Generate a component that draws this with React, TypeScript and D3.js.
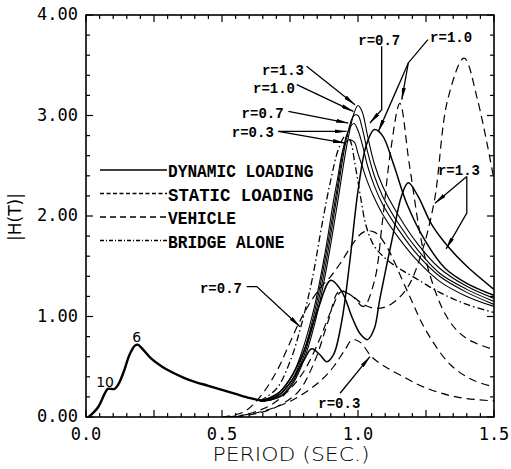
import React from "react";
import * as d3 from "d3";

// ---------- data (period T in sec, |H(T)|) ----------
const lowT = [0.01, 0.045, 0.07, 0.08, 0.105, 0.12, 0.14, 0.16, 0.18, 0.19, 0.21, 0.24, 0.28, 0.32, 0.36, 0.40, 0.45, 0.50, 0.55, 0.60, 0.63, 0.66];
const lowH = [0.00, 0.10, 0.24, 0.28, 0.28, 0.33, 0.46, 0.62, 0.71, 0.72, 0.67, 0.58, 0.50, 0.44, 0.39, 0.35, 0.31, 0.27, 0.23, 0.19, 0.17, 0.16];

const bundleT = [0.64, 0.68, 0.72, 0.76, 0.80, 0.84, 0.88, 0.92, 0.96, 0.985, 1.0, 1.015, 1.035, 1.06, 1.09, 1.15, 1.22, 1.30, 1.40, 1.50];
const dynR13 = [0.16, 0.17, 0.21, 0.33, 0.56, 0.92, 1.42, 2.05, 2.72, 3.02, 3.10, 3.04, 2.80, 2.52, 2.30, 2.00, 1.72, 1.48, 1.30, 1.18];
const dynR10 = [0.16, 0.17, 0.22, 0.35, 0.60, 0.98, 1.50, 2.15, 2.80, 3.00, 3.00, 2.88, 2.64, 2.40, 2.20, 1.92, 1.66, 1.43, 1.27, 1.15];
const dynR07 = [0.16, 0.18, 0.24, 0.38, 0.64, 1.04, 1.58, 2.22, 2.82, 2.92, 2.85, 2.72, 2.50, 2.30, 2.12, 1.86, 1.61, 1.40, 1.24, 1.12];
const dynR03 = [0.16, 0.20, 0.27, 0.42, 0.70, 1.10, 1.65, 2.30, 2.75, 2.74, 2.62, 2.50, 2.34, 2.18, 2.02, 1.78, 1.55, 1.35, 1.20, 1.10];

const twoPeakAT = [0.64, 0.70, 0.75, 0.80, 0.83, 0.86, 0.885, 0.91, 0.94, 0.97, 1.00, 1.03, 1.06, 1.09, 1.13, 1.18, 1.25, 1.32, 1.40, 1.50];
const twoPeakAH = [0.16, 0.20, 0.34, 0.56, 0.68, 0.62, 0.55, 0.62, 0.95, 1.55, 2.25, 2.70, 2.86, 2.80, 2.52, 2.12, 1.74, 1.48, 1.33, 1.21];

const twoPeakBT = [0.64, 0.70, 0.75, 0.80, 0.85, 0.90, 0.94, 0.98, 1.01, 1.035, 1.06, 1.08, 1.13, 1.16, 1.185, 1.22, 1.27, 1.33, 1.40, 1.50];
const twoPeakBH = [0.16, 0.22, 0.38, 0.65, 1.05, 1.36, 1.25, 0.98, 0.82, 0.77, 0.88, 1.17, 1.83, 2.20, 2.33, 2.20, 1.92, 1.70, 1.50, 1.27];

const bridgeT = [0.64, 0.70, 0.75, 0.79, 0.83, 0.87, 0.90, 0.93, 0.955, 0.97, 0.99, 1.01, 1.03, 1.06, 1.10, 1.15, 1.20, 1.30, 1.40, 1.50];
const bridgeH = [0.16, 0.28, 0.55, 0.90, 1.35, 1.95, 2.36, 2.68, 2.80, 2.76, 2.50, 2.18, 1.90, 1.70, 1.58, 1.48, 1.40, 1.24, 1.12, 1.04];

const vehR03T = [0.52, 0.58, 0.64, 0.70, 0.76, 0.82, 0.87, 0.91, 0.95, 0.98, 1.01, 1.05, 1.10, 1.16, 1.24, 1.36, 1.50];
const vehR03H = [0.00, 0.02, 0.05, 0.10, 0.17, 0.27, 0.38, 0.50, 0.66, 0.77, 0.74, 0.60, 0.50, 0.41, 0.30, 0.20, 0.16];

const vehR07T = [0.50, 0.58, 0.64, 0.70, 0.74, 0.78, 0.82, 0.86, 0.90, 0.94, 0.98, 1.02, 1.06, 1.10, 1.18, 1.25, 1.34, 1.42, 1.50];
const vehR07H = [0.00, 0.05, 0.20, 0.45, 0.68, 0.92, 1.12, 1.28, 1.40, 1.55, 1.72, 1.84, 1.84, 1.72, 1.26, 0.86, 0.52, 0.37, 0.30];

const vehR10T = [0.55, 0.62, 0.68, 0.74, 0.80, 0.86, 0.90, 0.94, 0.98, 1.02, 1.06, 1.09, 1.12, 1.154, 1.19, 1.25, 1.33, 1.40, 1.50];
const vehR10H = [0.00, 0.05, 0.12, 0.25, 0.45, 0.78, 1.05, 1.25, 1.20, 1.10, 1.35, 1.95, 2.65, 3.12, 2.49, 1.55, 0.98, 0.78, 0.67];

const vehR13T = [0.55, 0.62, 0.70, 0.78, 0.84, 0.89, 0.93, 0.97, 1.02, 1.07, 1.12, 1.18, 1.23, 1.28, 1.33, 1.39, 1.44, 1.50];
const vehR13H = [0.00, 0.03, 0.10, 0.25, 0.55, 0.95, 1.25, 1.22, 1.12, 1.08, 1.12, 1.28, 1.60, 2.14, 3.16, 3.57, 3.15, 2.36];

const xTickLabels = ["0.0", "0.5", "1.0", "1.5"];
const xTickValues = [0, 0.5, 1.0, 1.5];
const yTickLabels = ["0.00", "1.00", "2.00", "3.00", "4.00"];
const yTickValues = [0, 1, 2, 3, 4];

const legendItems = [
  { label: "DYNAMIC LOADING", dash: "" },
  { label: "STATIC  LOADING", dash: "4 2.5" },
  { label: "VEHICLE", dash: "6 4" },
  { label: "BRIDGE ALONE", dash: "4 2 1 2" },
];

// annotations (data units)
type Ann = { text: string; tx: number; ty: number; path: [number, number][][]; };
const annotations: Ann[] = [
  { text: "r=1.3", tx: 0.647, ty: 3.406, path: [[[0.811, 3.489], [0.989, 3.108]]] },
  { text: "r=1.0", tx: 0.614, ty: 3.227, path: [[[0.775, 3.307], [0.983, 3.041]]] },
  { text: "r=0.7", tx: 0.572, ty: 2.978, path: [[[0.744, 3.041], [0.964, 2.925]]] },
  { text: "r=0.3", tx: 0.536, ty: 2.789, path: [[[0.707, 2.842], [0.958, 2.842]], [[0.707, 2.842], [0.952, 2.726]]] },
  { text: "r=0.7", tx: 1.001, ty: 3.705, path: [[[1.087, 3.688], [1.087, 3.058], [1.044, 2.925]]] },
  { text: "r=1.0", tx: 1.265, ty: 3.735, path: [[[1.257, 3.755], [1.185, 3.523], [1.161, 3.157]], [[1.185, 3.523], [1.075, 2.842]]] },
  { text: "r=1.3", tx: 1.294, ty: 2.41, path: [[[1.400, 2.393], [1.283, 2.128]], [[1.400, 2.393], [1.400, 2.029], [1.324, 1.673]]] },
  { text: "r=0.7", tx: 0.419, ty: 1.235, path: [[[0.591, 1.298], [0.628, 1.298], [0.787, 0.899]]] },
  { text: "r=0.3", tx: 0.854, ty: 0.087, path: [[[0.934, 0.236], [1.044, 0.601]]] },
];

const peakLabels = [
  { text: "6", t: 0.186, h: 0.75 },
  { text: "10", t: 0.070, h: 0.302 },
];

// ---------- layout ----------
const W = 511;
const Hh = 469;
const left = 86, right = 494, top = 15, bottom = 417;

export default function App() {
  const x = d3.scaleLinear().domain([0, 1.5]).range([left, right]);
  const y = d3.scaleLinear().domain([0, 4]).range([bottom, top]);
  const line = d3
    .line<[number, number]>()
    .x((d) => x(d[0]))
    .y((d) => y(d[1]))
    .curve(d3.curveCatmullRom.alpha(0.5));
  const straight = d3.line<[number, number]>().x((d) => x(d[0])).y((d) => y(d[1]));
  const zip = (a: number[], b: number[]) => a.map((v, i) => [v, b[i]] as [number, number]);

  const xMinor = d3.range(0, 1.5001, 0.05);
  const yMinor = d3.range(0, 4.0001, 0.2);
  const isMajX = (v: number) => Math.abs(v / 0.25 - Math.round(v / 0.25)) < 1e-6;
  const isMajY = (v: number) => Math.abs(v - Math.round(v)) < 1e-6;

  const solidCurves = [
    { d: zip(bundleT, dynR13), w: 1.1 },
    { d: zip(bundleT, dynR10), w: 1.1 },
    { d: zip(bundleT, dynR07), w: 1.1 },
    { d: zip(bundleT, dynR03), w: 1.1 },
    { d: zip(twoPeakAT, twoPeakAH), w: 1.5 },
    { d: zip(twoPeakBT, twoPeakBH), w: 1.5 },
  ];
  const dashedCurves = [
    zip(vehR03T, vehR03H),
    zip(vehR07T, vehR07H),
    zip(vehR10T, vehR10H),
    zip(vehR13T, vehR13H),
  ];

  const mono = "'Liberation Mono', 'DejaVu Sans Mono', monospace";
  const sansMono = "'DejaVu Sans Mono', monospace";

  return (
    <svg width={W} height={Hh} style={{ display: "block", position: "absolute", left: 0, top: 0, background: "#fff" }}>
      <defs>
        <marker id="arr" viewBox="0 0 12 4" refX="12" refY="2" markerWidth="12" markerHeight="4" orient="auto" markerUnits="userSpaceOnUse">
          <path d="M0,0 L12,2 L0,4 Z" fill="#000" />
        </marker>
        <clipPath id="plot">
          <rect x={left} y={top} width={right - left} height={bottom - top} />
        </clipPath>
      </defs>
      <rect x={0} y={0} width={W} height={Hh} fill="#fff" />

      {/* frame */}
      <rect x={left} y={top} width={right - left} height={bottom - top} fill="none" stroke="#000" strokeWidth={1.6} />
      {xMinor.map((v, i) => {
        const L = isMajX(v) ? 7 : 4;
        return (
          <g key={"xt" + i} stroke="#000" strokeWidth={1.2}>
            <line x1={x(v)} x2={x(v)} y1={bottom} y2={bottom - L} />
            <line x1={x(v)} x2={x(v)} y1={top} y2={top + L} />
          </g>
        );
      })}
      {yMinor.map((v, i) => {
        const L = isMajY(v) ? 7 : 4;
        return (
          <g key={"yt" + i} stroke="#000" strokeWidth={1.2}>
            <line x1={left} x2={left + L} y1={y(v)} y2={y(v)} />
            <line x1={right} x2={right - L} y1={y(v)} y2={y(v)} />
          </g>
        );
      })}
      {xTickValues.map((v, i) => (
        <text key={"xl" + i} x={x(v)} y={440} textAnchor="middle" fontFamily={sansMono} fontSize={17} fill="#000">
          {xTickLabels[i]}
        </text>
      ))}
      {yTickValues.map((v, i) => (
        <text key={"yl" + i} x={78} y={y(v) + 5} textAnchor="end" fontFamily={sansMono} fontSize={17} fill="#000">
          {yTickLabels[i]}
        </text>
      ))}
      <text x={291} y={461} textAnchor="middle" fontFamily="'DejaVu Sans', sans-serif" fontSize={19} textLength={157} lengthAdjust="spacingAndGlyphs" fill="#000" fontWeight={300}>
        PERIOD (SEC.)
      </text>
      <text transform="translate(21,217) rotate(-90)" textAnchor="middle" fontFamily="'DejaVu Sans', sans-serif" fontSize={17} fill="#000">
        |H(T)|
      </text>

      {/* curves */}
      <g clipPath="url(#plot)" fill="none" stroke="#000">
        <path d={line(zip(lowT, lowH)) || ""} strokeWidth={2.4} />
        {solidCurves.map((c, i) => (
          <path key={"s" + i} d={line(c.d) || ""} strokeWidth={c.w} />
        ))}
        <path d={line(zip(bridgeT, bridgeH)) || ""} strokeWidth={1.3} strokeDasharray="7 3 1.5 3" />
        {dashedCurves.map((c, i) => (
          <path key={"d" + i} d={line(c) || ""} strokeWidth={1.2} strokeDasharray="8 5" />
        ))}
      </g>

      {/* legend */}
      {legendItems.map((it, i) => {
        const ly = 170 + i * 23.5;
        return (
          <g key={"lg" + i}>
            <line x1={100} x2={167} y1={ly} y2={ly} stroke="#000" strokeWidth={1.3} strokeDasharray={it.dash} />
            <text x={168} y={ly + 7} fontFamily={mono} fontWeight="bold" fontSize={18} textLength={it.label.length * 9.7} lengthAdjust="spacingAndGlyphs" fill="#000">
              {it.label}
            </text>
          </g>
        );
      })}

      {/* annotations */}
      {annotations.map((a, i) => (
        <g key={"an" + i}>
          <text x={x(a.tx)} y={y(a.ty)} fontFamily={mono} fontWeight="bold" fontSize={15} textLength={42} lengthAdjust="spacingAndGlyphs" fill="#000">
            {a.text}
          </text>
          {a.path.map((p, j) => (
            <path key={j} d={straight(p) || ""} fill="none" stroke="#000" strokeWidth={1.3} markerEnd="url(#arr)" />
          ))}
        </g>
      ))}
      {peakLabels.map((p, i) => (
        <text key={"pk" + i} x={x(p.t)} y={y(p.h)} textAnchor="middle" fontFamily="'DejaVu Sans', sans-serif" fontSize={14} fill="#000">
          {p.text}
        </text>
      ))}
    </svg>
  );
}
